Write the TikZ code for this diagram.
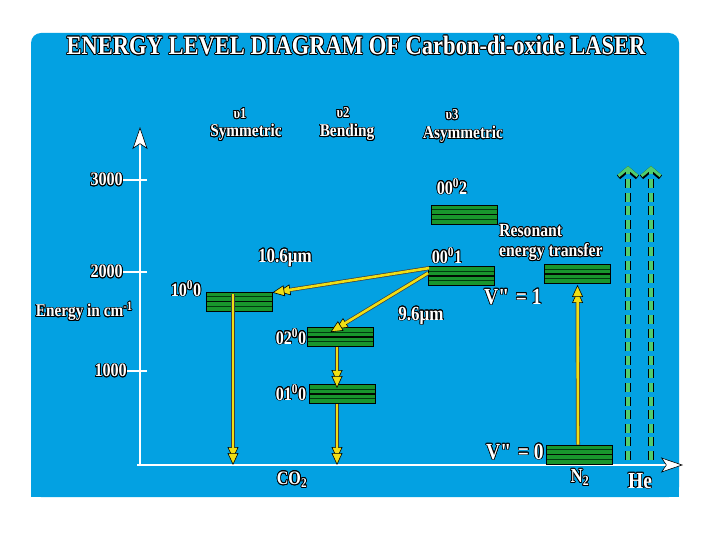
\documentclass[tikz,border=0pt]{standalone}
\usepackage{fontspec}
\setmainfont{Liberation Serif}[FakeStretch=0.85]
\usepackage{contour}
\contourlength{0.75pt}
\usetikzlibrary{arrows.meta}
\definecolor{cblue}{RGB}{3,161,226}
\definecolor{lgreen}{RGB}{25,150,45}
\definecolor{dgreen}{RGB}{0,60,15}
\definecolor{yarr}{RGB}{240,222,20}
\definecolor{hegreen}{RGB}{80,205,110}
\newcommand\ol[1]{\contour{black}{#1}}
\begin{document}
\begin{tikzpicture}[x=1pt,y=-1pt,
  lbl/.style={text=white,inner sep=0pt,font=\bfseries\fontsize{19}{21}\selectfont},
  small/.style={lbl,font=\bfseries\fontsize{15}{16}\selectfont},
  big/.style={lbl,font=\bfseries\fontsize{23}{25}\selectfont},
  bar/.style={draw=black,line width=0.8pt,fill=lgreen,minimum width=66pt,minimum height=19pt,inner sep=0pt,
    path picture={
      \draw[dgreen,line width=1.3pt]
        ([yshift=-4.8pt]path picture bounding box.north west) -- ([yshift=-4.8pt]path picture bounding box.north east)
        ([yshift=4.8pt]path picture bounding box.south west) -- ([yshift=4.8pt]path picture bounding box.south east);
      \draw[black!80!dgreen,line width=1.6pt]
        (path picture bounding box.west) -- (path picture bounding box.east);}},
  axis/.style={draw=white,line width=2.2pt,-{Stealth[length=22pt,width=15pt,inset=5pt,fill=white,color=black,line width=0.6pt]}},
  tick/.style={draw=white,line width=2pt},
  yarrow/.style={draw=yarr,line width=2.6pt,
    preaction={draw=black!75,line width=4pt,shorten >=6pt},
    -{Triangle[length=12pt,width=11pt,fill=yarr,color=black,line width=0.6pt]}},
  hearrow/.style={draw=hegreen,line width=3.4pt,dash pattern=on 9pt off 4.6pt,
    preaction={draw=black,line width=5.2pt,dash pattern=on 9pt off 4.6pt,
      -{Straight Barb[length=8pt,width=19pt,line width=5pt]}},
    -{Straight Barb[length=8pt,width=19pt,line width=3pt]}}
  ]
\useasboundingbox (0,0) rectangle (720,540);
\fill[white] (0,0) rectangle (720,540);
\fill[cblue,rounded corners=10pt] (31,33) rectangle (679,497);
\fill[cblue] (31,470) rectangle (679,497);

% title
\node[lbl,font=\bfseries\fontsize{26.5}{28}\selectfont] (title) at (356,46) {\ol{ENERGY LEVEL DIAGRAM OF Carbon-di-oxide LASER}};

% mode headers
\node[small] (u1) at (240,114) {\ol{υ1}};
\node[lbl,font=\bfseries\fontsize{18}{20}\selectfont] (sym) at (246,133) {\ol{Symmetric}};
\node[small] (u2) at (343,113) {\ol{υ2}};
\node[lbl,font=\bfseries\fontsize{18}{20}\selectfont] (bend) at (347,133) {\ol{Bending}};
\node[small] (u3) at (452,115) {\ol{υ3}};
\node[lbl,font=\bfseries\fontsize{18}{20}\selectfont] (asym) at (463,135) {\ol{Asymmetric}};

% axes
\coordinate (o) at (140,465);
\coordinate (ytop) at (140,127);
\coordinate (xend) at (683,465);
\draw[axis] ([yshift=-1pt]o) -- (ytop);
\draw[axis] ([xshift=-3pt]o) -- (xend);

% ticks
\node[lbl,anchor=east] (t3) at (123,180) {\ol{3000}};
\node[lbl,anchor=east] (t2) at (123,272) {\ol{2000}};
\node[lbl,anchor=east] (t1) at (127,371) {\ol{1000}};
\draw[tick] (t3.east) -- ++(24,0);
\draw[tick] (t2.east) -- ++(24,0);
\draw[tick] (t1.east) -- ++(20,0);
\node[lbl,anchor=east,font=\bfseries\fontsize{18}{20}\selectfont] (elab) at (133,312) {\ol{Energy in cm\textsuperscript{-1}}};

% energy levels
\node[bar] (l100) at (239,301.5) {};
\node[bar] (l020) at (340.5,337) {};
\node[bar] (l010) at (342.5,394) {};
\node[bar] (l002) at (464,214.5) {};
\node[bar] (l001) at (461.5,276) {};
\node[bar] (n1) at (577.5,274) {};
\node[bar] (n0) at (579,454.5) {};

% level labels
\node[lbl] (t100) at (186,289) {\ol{10\textsuperscript{0}0}};
\node[lbl] (t020) at (291,337) {\ol{02\textsuperscript{0}0}};
\node[lbl] (t010) at (291,393) {\ol{01\textsuperscript{0}0}};
\node[lbl] (t002) at (452,187) {\ol{00\textsuperscript{0}2}};
\node[lbl] (t001) at (447,256) {\ol{00\textsuperscript{0}1}};

% transitions
\coordinate (c100) at (233,465);
\coordinate (c010) at (337,465);
\draw[yarrow] ([xshift=1pt,yshift=-2pt]l001.north west) -- ([yshift=-1pt]l100.north east);
\draw[yarrow] ([yshift=3pt]l001.west) -- ([xshift=-10pt,yshift=-5pt]l020.north);
\draw[yarrow] ([xshift=-6pt,yshift=-2pt]l100.north) -- (c100);
\draw[yarrow] ([xshift=-3.5pt]l020.south) -- ([xshift=-5.5pt,yshift=-4pt]l010.north);
\draw[yarrow] ([xshift=-5.5pt]l010.south) -- (c010);
\draw[yarrow] ([xshift=-1pt]n0.north) -- ([yshift=-1pt]n1.south);

% helium
\coordinate (he1a) at (628,460);
\coordinate (he1b) at (628,166);
\coordinate (he2a) at (651,460);
\coordinate (he2b) at (651,166);
\draw[hearrow] (he1a) -- (he1b);
\draw[hearrow] (he2a) -- (he2b);

% other labels
\node[lbl,font=\bfseries\fontsize{20}{22}\selectfont] (w106) at (285,258) {\ol{10.6μm}};
\node[lbl,font=\bfseries\fontsize{20}{22}\selectfont] (w96) at (421,316) {\ol{9.6μm}};
\node[lbl,anchor=west,align=left,font=\bfseries\fontsize{18.5}{21}\selectfont] (ret) at (499,243) {\ol{Resonant}\\[-1pt]\ol{energy transfer}};
\node[big] (v1) at (513,297) {\ol{V\textquotedbl{} = 1}};
\node[big] (v0) at (515,452) {\ol{V\textquotedbl{} = 0}};
\node[lbl] (co2) at (292,480) {\ol{CO\textsubscript{2}}};
\node[lbl,font=\bfseries\fontsize{20}{22}\selectfont] (n2) at (580,478) {\ol{N\textsubscript{2}}};
\node[lbl,font=\bfseries\fontsize{23}{25}\selectfont] (he) at (640,481) {\ol{He}};
\end{tikzpicture}
\end{document}
